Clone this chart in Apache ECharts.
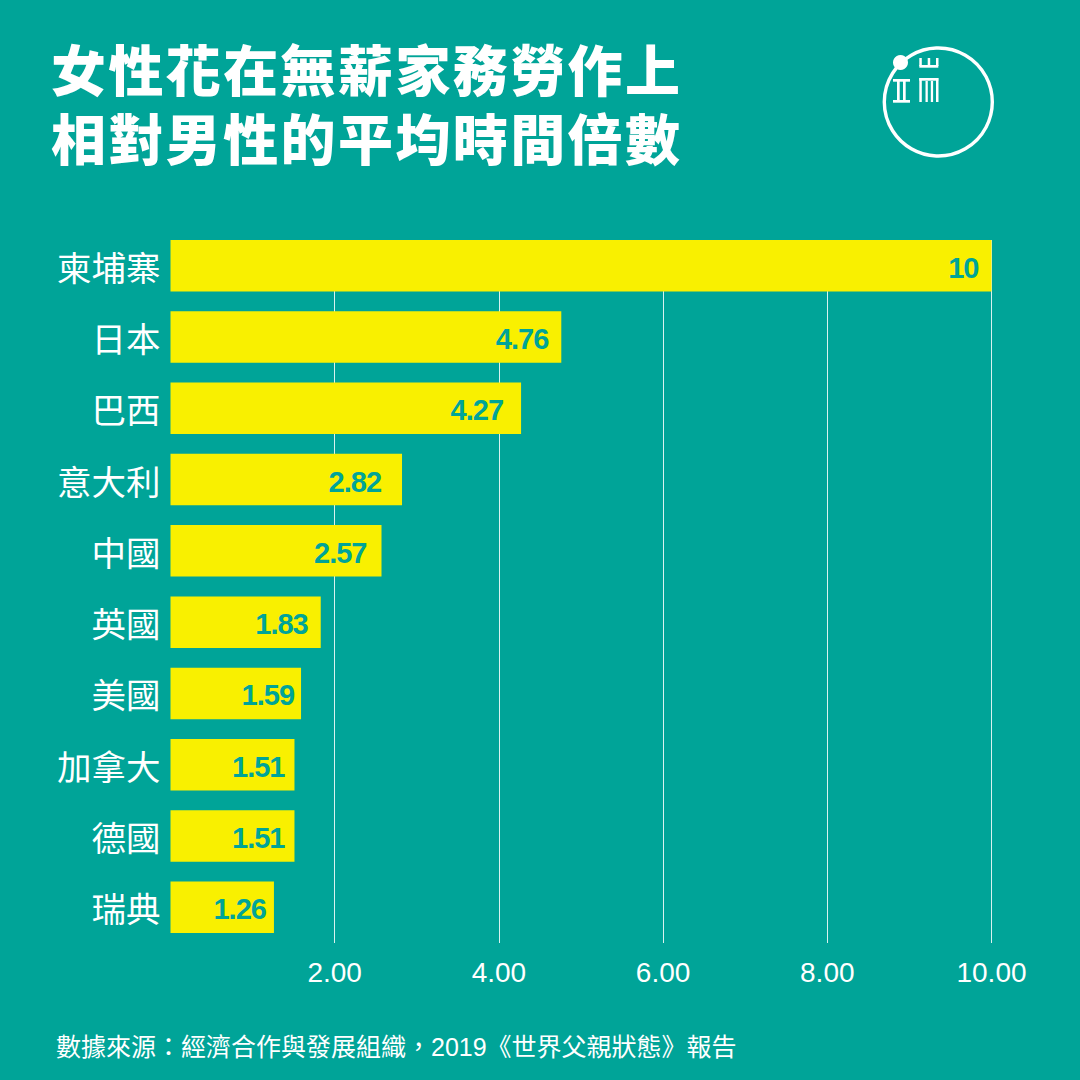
<!DOCTYPE html>
<html>
<head>
<meta charset="utf-8">
<style>
html,body{margin:0;padding:0;background:#00a498}
#chart{width:1080px;height:1080px}
/* the picture tracks its title wide and its bar labels tight */
#chart text[style*="55px"]{letter-spacing:2.4px}
#chart text[style*="29px"]{letter-spacing:-1px}
</style>
<script src="https://cdn.jsdelivr.net/npm/echarts@6/dist/echarts.min.js"></script>
</head>
<body>
<div id="chart"></div>
<script>
var categories = ['柬埔寨', '日本', '巴西', '意大利', '中國', '英國', '美國', '加拿大', '德國', '瑞典'];
var values = [10, 4.76, 4.27, 2.82, 2.57, 1.83, 1.59, 1.51, 1.51, 1.26];
var valueLabels = ['10', '4.76', '4.27', '2.82', '2.57', '1.83', '1.59', '1.51', '1.51', '1.26'];
var titleLines = '女性花在無薪家務勞作上\n相對男性的平均時間倍數';
var sourceText = '數據來源：經濟合作與發展組織，2019《世界父親狀態》報告';

// gap between the bar end and its label, it varies in the picture
var labelGaps = [13, 13, 18, 21, 15, 13, 7, 10, 10, 8];

var cjk = '"Noto Sans CJK TC", sans-serif';
var latin = '"Liberation Sans", "Noto Sans CJK TC", sans-serif';
var bg = '#00a498';

// logo strokes: x, y, w, h
var logoBars = [
    [893, 79, 17, 2.7], [893, 100, 17, 2.7], [897, 81, 2.7, 20], [903, 81, 2.7, 20],
    [919.3, 65, 19, 2.7], [919.3, 58, 2.5, 8], [927.7, 58, 2.5, 8], [936, 58, 2.5, 8],
    [919.3, 78, 19, 2.7], [919.3, 78, 2.5, 24], [936, 78, 2.5, 24], [925.5, 81, 2.3, 21], [930.8, 81, 2.3, 21]
];

var graphics = [
    // hides the grid lines above the first bar
    { type: 'rect', z: 1, shape: { x: 165, y: 225, width: 840, height: 15 }, style: { fill: bg } },
    { type: 'circle', z: 2, shape: { cx: 938.3, cy: 102, r: 54 }, style: { fill: 'none', stroke: '#fff', lineWidth: 3.4 } },
    { type: 'circle', z: 2, shape: { cx: 900.5, cy: 62.5, r: 7.5 }, style: { fill: '#fff' } }
];
logoBars.forEach(function (b) {
    graphics.push({ type: 'rect', z: 2, shape: { x: b[0], y: b[1], width: b[2], height: b[3] }, style: { fill: '#fff' } });
});

var chart = echarts.init(document.getElementById('chart'), null, { renderer: 'svg' });
chart.setOption({
    backgroundColor: bg,
    animation: false,
    title: [
        {
            text: titleLines,
            left: 46, top: 28,
            textStyle: { color: '#fff', fontFamily: cjk, fontWeight: 900, fontSize: 55, lineHeight: 68.5 }
        },
        {
            text: sourceText,
            left: 51, top: 1027,
            textStyle: { color: '#fff', fontFamily: latin, fontWeight: 400, fontSize: 25, lineHeight: 30 }
        }
    ],
    grid: { left: 170.5, right: 88.5, top: 230, bottom: 137, containLabel: false },
    xAxis: {
        type: 'value',
        min: 0, max: 10, interval: 2,
        axisLine: { show: false },
        axisTick: { show: false },
        splitLine: { show: true, showMinLine: false, lineStyle: { color: '#d9f2ef', width: 1 } },
        axisLabel: {
            color: '#fff', fontFamily: latin, fontSize: 28, margin: 15,
            formatter: function (v) { return v === 0 ? '' : v.toFixed(2); }
        }
    },
    yAxis: {
        type: 'category',
        inverse: true,
        data: categories,
        axisLine: { show: false },
        axisTick: { show: false },
        splitLine: { show: false },
        axisLabel: { color: '#fff', fontFamily: cjk, fontSize: 34.5, margin: 10, padding: [4, 0, 0, 0] }
    },
    series: [{
        type: 'bar',
        barWidth: 51.5,
        itemStyle: { color: '#f9f000' },
        z: 3,
        data: values.map(function (v, i) {
            return { value: v, label: { distance: labelGaps[i] } };
        }),
        label: {
            show: true,
            position: 'insideRight',
            offset: [0, 2],
            color: bg,
            fontFamily: latin,
            fontWeight: 700,
            fontSize: 29,
            formatter: function (p) { return valueLabels[p.dataIndex]; }
        }
    }],
    graphic: graphics
});
</script>
</body>
</html>
